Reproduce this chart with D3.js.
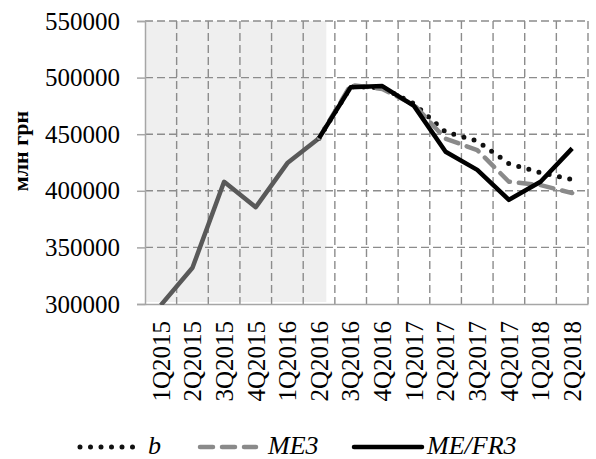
<!DOCTYPE html>
<html>
<head>
<meta charset="utf-8">
<script src="https://cdn.jsdelivr.net/npm/d3@7"></script>
<style>
  body { margin: 0; background: #fff; }
  svg text { font-family: "Times New Roman", Times, "Liberation Serif", serif; }
</style>
</head>
<body>
<div id="chart"></div>
<script>
// quarters on the x axis
const quarters = ['1Q2015', '2Q2015', '3Q2015', '4Q2015', '1Q2016', '2Q2016', '3Q2016',
  '4Q2016', '1Q2017', '2Q2017', '3Q2017', '4Q2017', '1Q2018', '2Q2018'];

// actual data (grey), up to 2Q2016
const actual = [299000, 332000, 408000, 385500, 424500, 446500, null, null, null, null, null, null, null, null];
// forecasts, starting from 2Q2016
const bValues = [null, null, null, null, null, 446500, 492000, 491000, 477000, 452000, 444000, 424000, 416000, 410000];
const me3Values = [null, null, null, null, null, 446500, 493500, 490000, 476000, 446000, 436000, 408000, 405000, 398000];
const meFr3Values = [null, null, null, null, null, 446500, 491500, 492500, 475000, 434500, 418500, 392000, 408000, 437500];

const yTicks = [300000, 350000, 400000, 450000, 500000, 550000];
const shadedTo = '2Q2016';

const yTitle = 'млн грн';
const legendItems = [
  { key: 'b', label: 'b' },
  { key: 'me3', label: 'ME3' },
  { key: 'mefr3', label: 'ME/FR3' }
];

const styles = {
  actual: { stroke: '#595959', dash: null, width: 4.5 },
  b: { stroke: '#111', dash: '0,10.5', width: 5 },
  me3: { stroke: '#8a8a8a', dash: '13,9', width: 4.5 },
  mefr3: { stroke: '#000', dash: null, width: 4.5 }
};

const width = 596;
const height = 459;
const margin = { left: 145, right: 8, top: 21, bottom: 155 };
const innerW = width - margin.left - margin.right;
const innerH = height - margin.top - margin.bottom;

const svg = d3.select('#chart')
  .append('svg')
  .attr('width', width)
  .attr('height', height);

const g = svg.append('g')
  .attr('transform', 'translate(' + margin.left + ', ' + margin.top + ')');

const x = d3.scaleBand().domain(quarters).range([0, innerW]).padding(0);
const y = d3.scaleLinear().domain([300000, 550000]).range([innerH, 0]);
const cx = (d) => x(d) + x.bandwidth() / 2;

// shaded "history" area
g.append('rect')
  .attr('x', 0)
  .attr('y', 0)
  .attr('width', cx(shadedTo) + x.bandwidth() * 0.23)
  .attr('height', innerH - 2)
  .attr('fill', '#efefef');

// horizontal grid
g.append('g')
  .selectAll('line')
  .data(yTicks.filter((t) => t > 300000))
  .join('line')
  .attr('x1', 0)
  .attr('x2', innerW)
  .attr('y1', (d) => y(d))
  .attr('y2', (d) => y(d))
  .attr('stroke', '#8c8c8c')
  .attr('stroke-width', 1.4)
  .attr('stroke-dasharray', '8,4');

// vertical grid at category boundaries
g.append('g')
  .selectAll('line')
  .data(quarters)
  .join('line')
  .attr('x1', (d) => x(d) + x.bandwidth())
  .attr('x2', (d) => x(d) + x.bandwidth())
  .attr('y1', 0)
  .attr('y2', innerH)
  .attr('stroke', '#8c8c8c')
  .attr('stroke-width', 1.4)
  .attr('stroke-dasharray', '8,4');

// y axis
const yAxis = g.append('g')
  .call(d3.axisLeft(y).tickValues(yTicks).tickSize(8).tickPadding(17).tickFormat(d3.format('d')));
yAxis.attr('font-family', null);
yAxis.select('.domain').attr('stroke', '#a6a6a6').attr('stroke-width', 1.5);
yAxis.selectAll('.tick line').attr('stroke', '#a6a6a6').attr('stroke-width', 1.5);
yAxis.selectAll('.tick text')
  .attr('font-size', '25px')
  .attr('fill', '#000');

// x axis
const xAxis = g.append('g')
  .attr('transform', 'translate(0, ' + innerH + ')')
  .call(d3.axisBottom(x).tickSize(0).tickPadding(0));
xAxis.attr('font-family', null);
xAxis.select('.domain').attr('stroke', '#a6a6a6').attr('stroke-width', 1.5);
xAxis.selectAll('.tick text')
  .attr('font-size', '25px')
  .attr('fill', '#000')
  .attr('text-anchor', 'end')
  .attr('transform', 'translate(0, 17) rotate(-90)')
  .attr('dy', '0.35em')
  .attr('y', 0);

// y title
svg.append('text')
  .attr('transform', 'translate(28, 151) rotate(-90)')
  .attr('text-anchor', 'middle')
  .attr('font-size', '22px')
  .attr('font-weight', 'bold')
  .attr('fill', '#000')
  .text(yTitle);

// lines
svg.append('defs').append('clipPath')
  .attr('id', 'plot-clip')
  .append('rect')
  .attr('x', -5).attr('y', -5)
  .attr('width', innerW + 10)
  .attr('height', innerH + 6);

const line = d3.line()
  .defined((d) => d.v != null)
  .x((d) => cx(d.q))
  .y((d) => y(d.v));

const series = [
  { key: 'actual', values: actual },
  { key: 'b', values: bValues },
  { key: 'me3', values: me3Values },
  { key: 'mefr3', values: meFr3Values }
];

const linesG = g.append('g').attr('clip-path', 'url(#plot-clip)');
series.forEach((s) => {
  const st = styles[s.key];
  linesG.append('path')
    .datum(quarters.map((q, i) => ({ q: q, v: s.values[i] })))
    .attr('fill', 'none')
    .attr('stroke', st.stroke)
    .attr('stroke-width', st.width)
    .attr('stroke-linejoin', 'round')
    .attr('stroke-linecap', st.dash ? 'round' : 'butt')
    .attr('stroke-dasharray', st.dash)
    .attr('d', line);
});

// legend
const legendPos = [
  { x1: 80, x2: 138, tx: 148 },
  { x1: 200, x2: 256, tx: 268 },
  { x1: 354, x2: 422, tx: 427 }
];
const legendY = 447;
const legend = svg.append('g');
legendItems.forEach((item, i) => {
  const st = styles[item.key];
  const p = legendPos[i];
  legend.append('line')
    .attr('x1', p.x1).attr('x2', p.x2)
    .attr('y1', legendY).attr('y2', legendY)
    .attr('stroke', st.stroke)
    .attr('stroke-width', st.width)
    .attr('stroke-linecap', 'round')
    .attr('stroke-dasharray', st.dash);
  legend.append('text')
    .attr('x', p.tx)
    .attr('y', legendY + 7)
    .attr('font-size', '26px')
    .attr('font-style', 'italic')
    .attr('fill', '#000')
    .text(item.label);
});
</script>
</body>
</html>
